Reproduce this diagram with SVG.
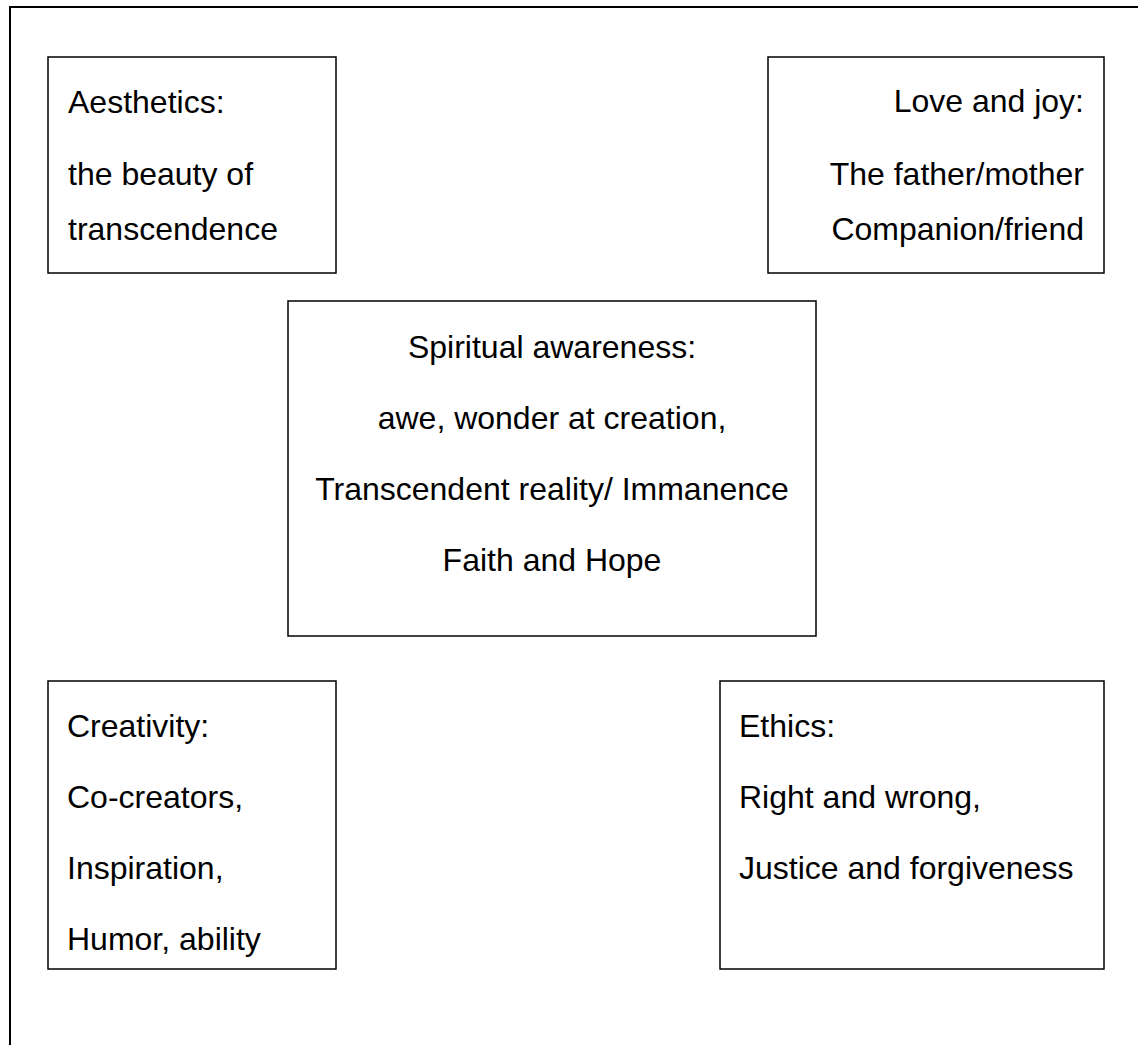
<svg xmlns="http://www.w3.org/2000/svg" width="1138" height="1045" viewBox="0 0 1138 1045">
  <style>
    .box { fill: #ffffff; stroke: #000000; stroke-width: 1.5; }
    .frame { fill: none; stroke: #000000; stroke-width: 2; }
    text { font-family: "Liberation Sans", Arial, sans-serif; font-size: 32px; fill: #000000; }
    .mid { text-anchor: middle; }
    .end { text-anchor: end; }
  </style>
  <rect width="1138" height="1045" fill="#ffffff"/>
  <path class="frame" d="M10,1046 V7 H1139"/>
  <g id="connectors"></g>
  <g id="aesthetics">
    <rect class="box" x="48" y="57" width="288" height="216"/>
    <text x="68" y="113">Aesthetics:</text>
    <text x="68" y="185">the beauty of</text>
    <text x="68" y="240">transcendence</text>
  </g>
  <g id="love-and-joy">
    <rect class="box" x="768" y="57" width="336" height="216"/>
    <text class="end" x="1084" y="112">Love and joy:</text>
    <text class="end" x="1084" y="185">The father/mother</text>
    <text class="end" x="1084" y="240">Companion/friend</text>
  </g>
  <g id="spiritual-awareness">
    <rect class="box" x="288" y="301" width="528" height="335"/>
    <text class="mid" x="552" y="358">Spiritual awareness:</text>
    <text class="mid" x="552" y="429">awe, wonder at creation,</text>
    <text class="mid" x="552" y="500">Transcendent reality/ Immanence</text>
    <text class="mid" x="552" y="571">Faith and Hope</text>
  </g>
  <g id="creativity">
    <rect class="box" x="48" y="681" width="288" height="288"/>
    <text x="67" y="737">Creativity:</text>
    <text x="67" y="808">Co-creators,</text>
    <text x="67" y="879">Inspiration,</text>
    <text x="67" y="950">Humor, ability</text>
  </g>
  <g id="ethics">
    <rect class="box" x="720" y="681" width="384" height="288"/>
    <text x="739" y="737">Ethics:</text>
    <text x="739" y="808">Right and wrong,</text>
    <text x="739" y="879">Justice and forgiveness</text>
  </g>
</svg>
